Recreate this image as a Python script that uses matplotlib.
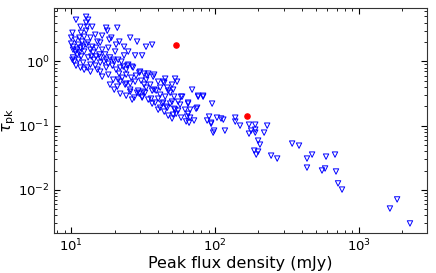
import matplotlib
matplotlib.use("Agg")
import matplotlib.pyplot as plt
import numpy as np

# Upper limits (non-detections): peak flux density (mJy) and tau_pk
flux_lim = [
    10.8, 12.7, 12.7, 12.9, 10.2, 11.7, 12.7, 17.5, 17.8, 20.9, 14.7, 16.4, 19.0, 21.6, 28.7,
    33.1, 36.5, 24.9, 27.8, 20.2, 19.6, 10.0, 10.3, 11.0, 10.3, 13.1, 15.2, 15.9, 12.3, 14.2,
    16.4, 12.1, 13.6, 15.9, 12.9, 15.2, 16.4, 18.1, 19.6, 21.9, 23.0, 24.9, 26.9, 30.1, 33.7,
    37.1, 20.9, 23.7, 25.7, 28.7, 31.6, 37.7, 31.1, 34.3, 38.3, 43.6, 54.4, 46.5, 51.1, 59.0,
    69.2, 76.2, 82.5, 95.3, 43.6, 46.5, 52.7, 64.9, 67.0, 63.9, 65.9, 90.8, 93.8, 96.9,
    24.5, 26.5, 29.7, 32.1, 34.3, 37.7, 30.6, 33.2, 45.0, 52.7, 44.3, 50.2, 24.1, 25.7, 29.2,
    29.7, 36.5, 38.9, 31.1, 32.6, 35.9, 40.2, 47.2, 48.7, 51.9, 58.0, 50.2, 55.3, 64.9, 73.8,
    42.8, 45.7, 41.5, 44.3, 51.9, 55.3, 53.6, 51.1, 64.9, 67.0,
    76.2, 82.5, 75.0, 71.4, 103, 110, 114, 88.0, 93.8, 98.4, 117, 138, 138, 149, 172, 190, 230,
    172, 178, 190, 190, 219, 199, 205, 187, 199, 193, 245, 270,
    343, 383, 435, 472, 435, 590, 681, 553, 581, 692, 715, 762, 1840, 1640, 2260,
    10.7, 11.2, 11.6, 11.9, 11.4, 12.3, 13.6, 14.0, 14.9, 15.7, 17.2, 18.1, 18.6, 16.9, 17.5,
    19.3, 20.5, 21.5, 22.6, 24.1, 26.1, 27.8, 21.2, 22.3, 10.5, 11.2, 11.7, 10.8, 11.6, 12.3,
    13.6, 15.9, 18.6, 19.9, 21.9, 24.1, 26.5, 27.4, 36.5, 40.2, 47.2, 50.2, 58.0, 62.9, 35.4,
    41.5, 14.4, 13.8, 10.3, 10.7, 13.1, 14.7, 18.4, 23.3, 25.7, 31.1, 23.3, 20.5, 14.0, 11.6,
    13.1, 10.0, 10.2, 11.0, 11.4, 12.1, 12.7, 13.6, 14.9, 15.9, 17.5, 18.1, 19.9, 21.9, 24.1,
    21.2, 25.7, 28.2, 32.1, 33.2, 40.2, 41.5, 45.0, 48.7, 61.9, 57.1,
]
tau_lim = [
    4.45, 4.95, 4.0, 3.46, 2.79, 2.79, 3.0, 3.34, 3.0, 3.34, 2.6, 2.51, 2.34, 2.03, 2.03,
    1.69, 1.82, 1.42, 1.235, 1.42, 1.06, 1.89, 1.52, 1.28, 1.15, 1.96, 2.03, 1.96, 1.42, 1.37,
    1.52, 0.955, 0.889, 0.955, 0.80, 0.743, 0.578, 0.621, 0.519, 0.483, 0.828, 0.889, 0.80,
    0.692, 0.599, 0.578, 0.404, 0.434, 0.363, 0.325, 0.337, 0.363, 0.273, 0.254, 0.228, 0.483,
    0.483, 0.390, 0.363, 0.282, 0.363, 0.282, 0.282, 0.220, 0.228, 0.190, 0.177, 0.220, 0.177,
    0.138, 0.111, 0.138, 0.111, 0.0778,
    0.858, 0.828, 0.667, 0.644, 0.644, 0.621, 0.50, 0.519, 0.538, 0.538, 0.466, 0.434, 0.45,
    0.337, 0.35, 0.314, 0.35, 0.35, 0.282, 0.325, 0.263, 0.263, 0.35, 0.325, 0.282, 0.282,
    0.236, 0.236, 0.228, 0.183, 0.220, 0.197, 0.190, 0.165, 0.183, 0.171, 0.153, 0.148, 0.153,
    0.133,
    0.292, 0.292, 0.190, 0.120, 0.133, 0.129, 0.124, 0.120, 0.107, 0.0836, 0.0836, 0.133,
    0.1155, 0.0999, 0.1035, 0.1035, 0.0999, 0.075, 0.0836, 0.0866, 0.0778, 0.0778, 0.0584,
    0.0506, 0.0408, 0.0394, 0.0354, 0.0341, 0.0307,
    0.0525, 0.0488, 0.0307, 0.0354, 0.0222, 0.0329, 0.0354, 0.0200, 0.0215, 0.0193, 0.0126,
    0.0101, 0.0071, 0.00512, 0.0030,
    2.18, 1.82, 1.63, 2.03, 2.34, 2.42, 2.34, 1.69, 1.63, 1.28, 1.28, 1.63, 1.15, 0.99, 0.80,
    0.858, 0.743, 0.644, 0.557, 0.621, 0.557, 0.483, 1.06, 0.99, 0.99, 1.06, 1.19, 0.858, 0.80,
    0.743, 0.692, 0.692, 0.434, 0.363, 0.314, 0.292, 0.254, 0.273, 0.220, 0.177, 0.143, 0.129,
    0.133, 0.116, 0.434, 0.390, 1.06, 1.19, 1.69, 1.42, 1.15, 0.858, 2.18, 1.69, 2.34, 1.235,
    1.235, 1.82, 3.46, 3.46, 4.45, 2.34, 1.06, 1.52, 1.365, 1.69, 1.82, 1.52, 1.19, 1.15, 1.06,
    0.92, 0.99, 0.80, 0.743, 0.519, 0.45, 0.599, 0.434, 0.39, 0.483, 0.303, 0.282, 0.220,
    0.177, 0.212,
]

# Detections
flux_det = [53.6, 166]
tau_det = [1.82, 0.142]

fig = plt.figure(figsize=(4.36, 2.73), dpi=100)
ax = fig.add_axes([0.124, 0.145, 0.855, 0.826])

ax.scatter(flux_lim, tau_lim, marker='v', s=15, facecolors='none',
           edgecolors='#0000ff', linewidths=0.7, zorder=2)
ax.scatter(flux_det, tau_det, marker='o', s=14, color='red', zorder=3)

ax.set_xscale('log')
ax.set_yscale('log')
ax.set_xlim(7.6, 2960)
ax.set_ylim(0.0021, 6.8)

for s in ax.spines.values():
    s.set_color('#333333')
ax.tick_params(which='both', direction='in', top=True, right=True, labelsize=9.5, pad=3)
ax.tick_params(which='major', length=4, width=0.8)
ax.tick_params(which='minor', length=2, width=0.6)

ax.set_xlabel('Peak flux density (mJy)', fontsize=11.5, labelpad=1)
ax.set_ylabel(r'$\tau_{\rm pk}$', fontsize=11.5, labelpad=0)

fig.savefig('out.png', dpi=100)
